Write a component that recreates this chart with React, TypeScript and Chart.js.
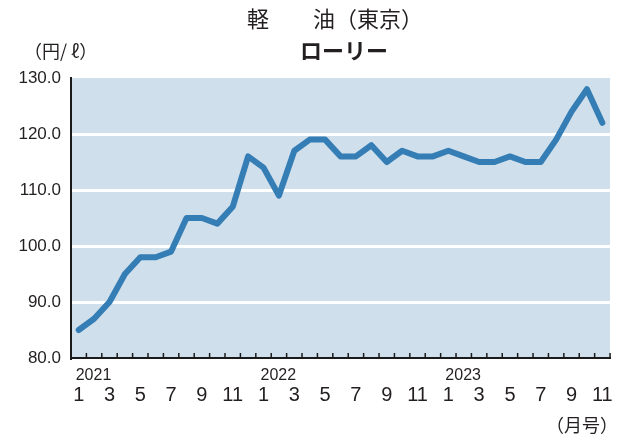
import React, { useEffect, useRef } from "react";
import { Chart, registerables } from "chart.js";

Chart.register(...registerables);

const monthLabels = [
  "1", "2", "3", "4", "5", "6", "7", "8", "9", "10", "11", "12",
  "1", "2", "3", "4", "5", "6", "7", "8", "9", "10", "11", "12",
  "1", "2", "3", "4", "5", "6", "7", "8", "9", "10", "11",
];
const yearLabels = ["2021", "2022", "2023"];
const yearStartIndex = [0, 12, 24];
const dieselPrices = [
  85, 87, 90, 95, 98, 98, 99, 105, 105, 104, 107, 116,
  114, 109, 117, 119, 119, 116, 116, 118, 115, 117, 116, 116,
  117, 116, 115, 115, 116, 115, 115, 119, 124, 128, 122,
];
const yTicks = [80, 90, 100, 110, 120, 130];

const TITLE = "軽\u3000\u3000油（東京）";
const SUBTITLE = "ローリー";
const Y_UNIT = "（円/ ℓ）";
const X_UNIT = "（月号）";

const CJK = '"Noto Sans CJK JP", "Noto Sans", sans-serif';
const LATIN = '"Liberation Sans", Arial, sans-serif';

const decorPlugin = {
  id: "decor",
  beforeDraw(chart: any) {
    const { ctx, chartArea } = chart;
    ctx.save();
    ctx.fillStyle = "#cfdfeb";
    ctx.fillRect(chartArea.left, chartArea.top, chartArea.right - chartArea.left, chartArea.bottom - chartArea.top);
    ctx.restore();
  },
  afterDraw(chart: any) {
    const { ctx, chartArea } = chart;
    const xs = chart.scales.x;
    ctx.save();
    // inner tick marks at month boundaries
    ctx.strokeStyle = "#1a1a1a";
    ctx.lineWidth = 1.5;
    const n = monthLabels.length;
    for (let i = 1; i <= n; i++) {
      const x =
        i < n
          ? (xs.getPixelForValue(i - 1) + xs.getPixelForValue(i)) / 2
          : chartArea.right;
      ctx.beginPath();
      ctx.moveTo(x, chartArea.bottom);
      ctx.lineTo(x, chartArea.bottom - 5);
      ctx.stroke();
    }
    // year labels
    ctx.fillStyle = "#231f20";
    ctx.font = `16px ${LATIN}`;
    ctx.textAlign = "left";
    ctx.textBaseline = "middle";
    yearLabels.forEach((y, k) => {
      const x = xs.getPixelForValue(yearStartIndex[k]) - 3;
      ctx.fillText(y, x, chartArea.bottom + 18);
    });
    // titles
    ctx.font = `22px ${CJK}`;
    ctx.textAlign = "left";
    ctx.fillText(TITLE, 247, 19);
    ctx.font = `bold 22px ${CJK}`;
    ctx.textAlign = "center";
    ctx.fillText(SUBTITLE, 344, 51);
    // units
    ctx.font = `18px ${CJK}`;
    ctx.textAlign = "left";
    ctx.fillText(Y_UNIT, 24, 51);
    ctx.textAlign = "right";
    ctx.fillText(X_UNIT, 618, 425);
    ctx.restore();
  },
};

export default function App() {
  const canvasRef = useRef<HTMLCanvasElement | null>(null);

  useEffect(() => {
    document.body.style.margin = "0";
    const canvas = canvasRef.current;
    if (!canvas) return;
    const chart = new Chart(canvas, {
      type: "line",
      data: {
        labels: monthLabels,
        datasets: [
          {
            data: dieselPrices,
            borderColor: "#357db5",
            borderWidth: 6,
            borderCapStyle: "round",
            borderJoinStyle: "round",
            pointRadius: 0,
            fill: false,
            tension: 0,
          },
        ],
      },
      options: {
        animation: false,
        responsive: false,
        devicePixelRatio: 1,
        layout: { padding: { top: 78, right: 19, left: 0, bottom: 0 } },
        plugins: {
          legend: { display: false },
          title: { display: false },
          tooltip: { enabled: false },
        },
        scales: {
          x: {
            type: "category",
            offset: true,
            grid: { display: false, drawTicks: false, offset: true },
            border: { display: true, color: "#1a1a1a", width: 2 },
            ticks: {
              autoSkip: false,
              maxRotation: 0,
              minRotation: 0,
              padding: 25,
              color: "#231f20",
              font: { family: LATIN, size: 20 },
              callback: (_v: any, idx: number) => (idx % 2 === 0 ? monthLabels[idx] : ""),
            },
            afterFit: (scale: any) => {
              scale.height = 88;
            },
          },
          y: {
            min: 80,
            max: 130,
            afterBuildTicks: (scale: any) => {
              scale.ticks = yTicks.map((v) => ({ value: v }));
            },
            grid: {
              drawTicks: false,
              lineWidth: 3,
              color: (c: any) =>
                c.tick && (c.tick.value === 80 || c.tick.value === 130) ? "rgba(0,0,0,0)" : "#ffffff",
            },
            border: { display: true, color: "#1a1a1a", width: 2 },
            ticks: {
              padding: 10,
              color: "#231f20",
              font: { family: LATIN, size: 17 },
              callback: (v: any) => Number(v).toFixed(1),
            },
            afterFit: (scale: any) => {
              scale.width = 71;
            },
          },
        },
      },
      plugins: [decorPlugin],
    });
    return () => chart.destroy();
  }, []);

  return (
    <canvas
      ref={canvasRef}
      width={638}
      height={446}
      style={{ display: "block", width: 638, height: 446 }}
    />
  );
}
